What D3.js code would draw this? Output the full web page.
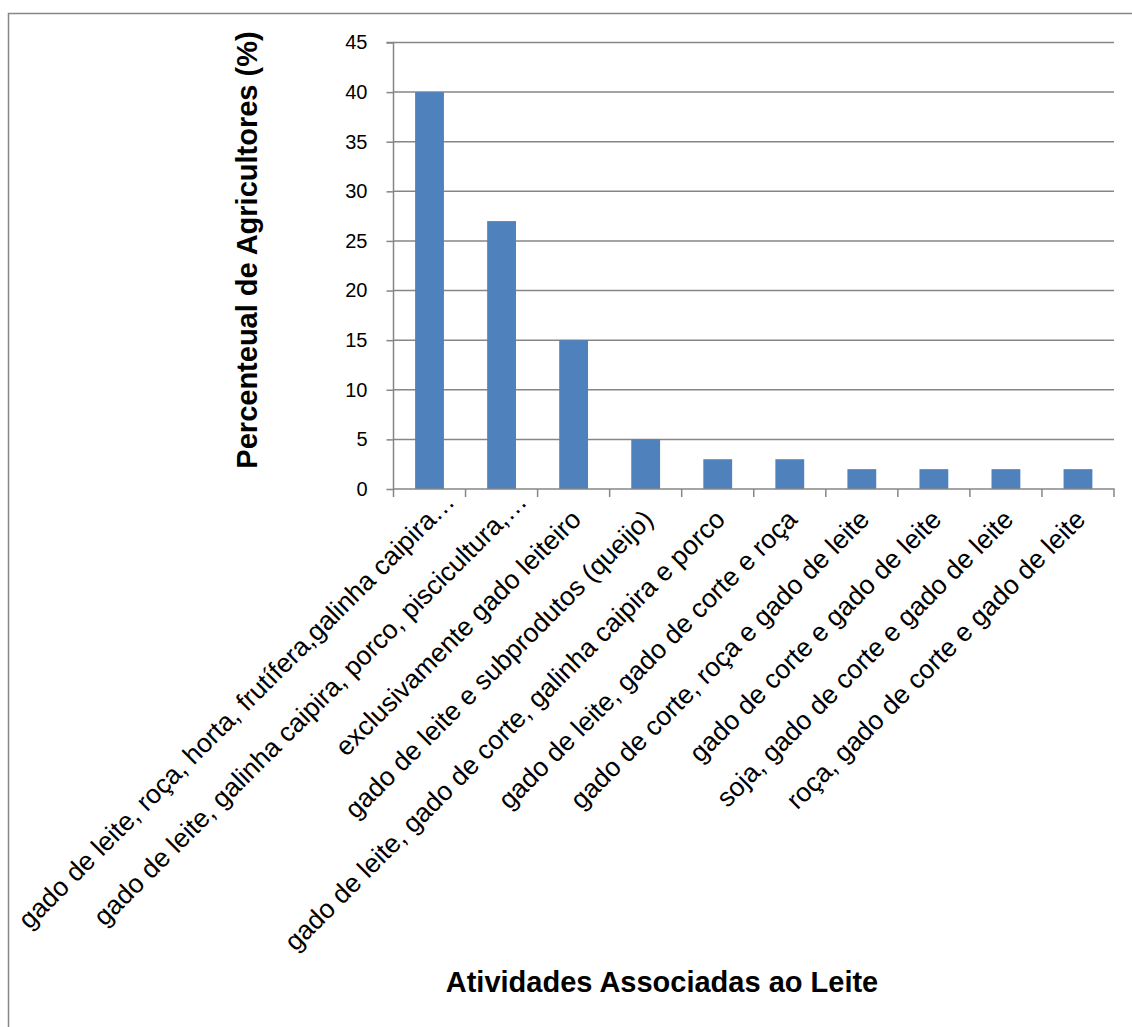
<!DOCTYPE html>
<html><head><meta charset="utf-8">
<script src="https://cdn.jsdelivr.net/npm/d3@7"></script>
<style>body{margin:0;background:#fff}svg{display:block}</style>
</head><body>
<script>
const categories = [
  "gado de leite, roça, horta, frutífera,galinha caipira…",
  "gado de leite, galinha caipira, porco, piscicultura,…",
  "exclusivamente gado leiteiro",
  "gado de leite e subprodutos (queijo)",
  "gado de leite, gado de corte, galinha caipira e porco",
  "gado de leite, gado de corte e roça",
  "gado de corte, roça e gado de leite",
  "gado de corte e gado de leite",
  "soja, gado de corte e gado de leite",
  "roça, gado de corte e gado de leite"
];
const values = [40, 27, 15, 5, 3, 3, 2, 2, 2, 2];
const yTicks = [0, 5, 10, 15, 20, 25, 30, 35, 40, 45];
const yTitle = "Percenteual de Agricultores (%)";
const xTitle = "Atividades Associadas ao Leite";

const W = 1132, H = 1027;
const svg = d3.select("body").append("svg").attr("width", W).attr("height", H);
const gray = "#868686";
const font = "Liberation Sans, Arial, sans-serif";

// outer frame (only top and left visible)
svg.append("rect").attr("x", 8.5).attr("y", 13.5).attr("width", 1200).attr("height", 1200)
  .attr("fill", "none").attr("stroke", gray).attr("stroke-width", 1.5);

const x0 = 393.5, x1 = 1114, yTop = 42.5, yBot = 489;
const x = d3.scaleBand().domain(categories).range([x0, x1]).paddingInner(0.6).paddingOuter(0.3);
const xb = d3.scaleBand().domain(categories).range([x0, x1]);
const y = d3.scaleLinear().domain([0, 45]).range([yBot, yTop]);

// gridlines
svg.append("g").selectAll("line").data(yTicks.filter(d => d > 0)).join("line")
  .attr("x1", x0).attr("x2", x1).attr("y1", d => y(d)).attr("y2", d => y(d))
  .attr("stroke", gray).attr("stroke-width", 1.5);

// bars
svg.append("g").selectAll("rect").data(values).join("rect")
  .attr("x", (d, i) => x(categories[i]))
  .attr("width", x.bandwidth())
  .attr("y", d => y(d))
  .attr("height", d => yBot - y(d))
  .attr("fill", "#4F81BD");

// y axis
const yAxis = d3.axisLeft(y).tickValues(yTicks).tickSize(7).tickPadding(19);
const gy = svg.append("g").attr("transform", `translate(${x0},0)`).call(yAxis);
gy.select(".domain").attr("stroke", gray).attr("stroke-width", 1.5).attr("d", `M-7,${yTop}H0V${yBot}`);
gy.selectAll(".tick line").attr("stroke", gray).attr("stroke-width", 1.5);
gy.selectAll(".tick text").attr("font-family", font)
  .attr("font-size", 20).attr("fill", "#000");

// x axis
const xAxis = d3.axisBottom(xb).tickSize(8).tickFormat("");
const gx = svg.append("g").attr("transform", `translate(0,${yBot})`).call(xAxis);
gx.select(".domain").attr("stroke", gray).attr("stroke-width", 1.5).attr("d", `M${x0},0H${x1}V8`);
gx.selectAll(".tick line").attr("stroke", gray).attr("stroke-width", 1.5)
  .attr("transform", `translate(${-xb.bandwidth()/2},0)`);

// category labels
svg.append("g").selectAll("text").data(categories).join("text")
  .attr("transform", d => `translate(${xb(d) + xb.bandwidth()/2 + 9},${yBot + 32}) rotate(-45)`)
  .attr("text-anchor", "end")
  .attr("dx", d => d.endsWith("…") ? "0.95em" : 0)
  .attr("font-family", font)
  .attr("font-size", 26.5)
  .attr("fill", "#000")
  .text(d => d);

// titles
svg.append("text").attr("x", 662).attr("y", 992).attr("text-anchor", "middle")
  .attr("font-family", font).attr("font-weight", "bold")
  .attr("font-size", 29).text(xTitle);
svg.append("text").attr("transform", `translate(257,250) rotate(-90)`).attr("text-anchor", "middle")
  .attr("font-family", font).attr("font-weight", "bold")
  .attr("font-size", 29).text(yTitle);
</script>
</body></html>
